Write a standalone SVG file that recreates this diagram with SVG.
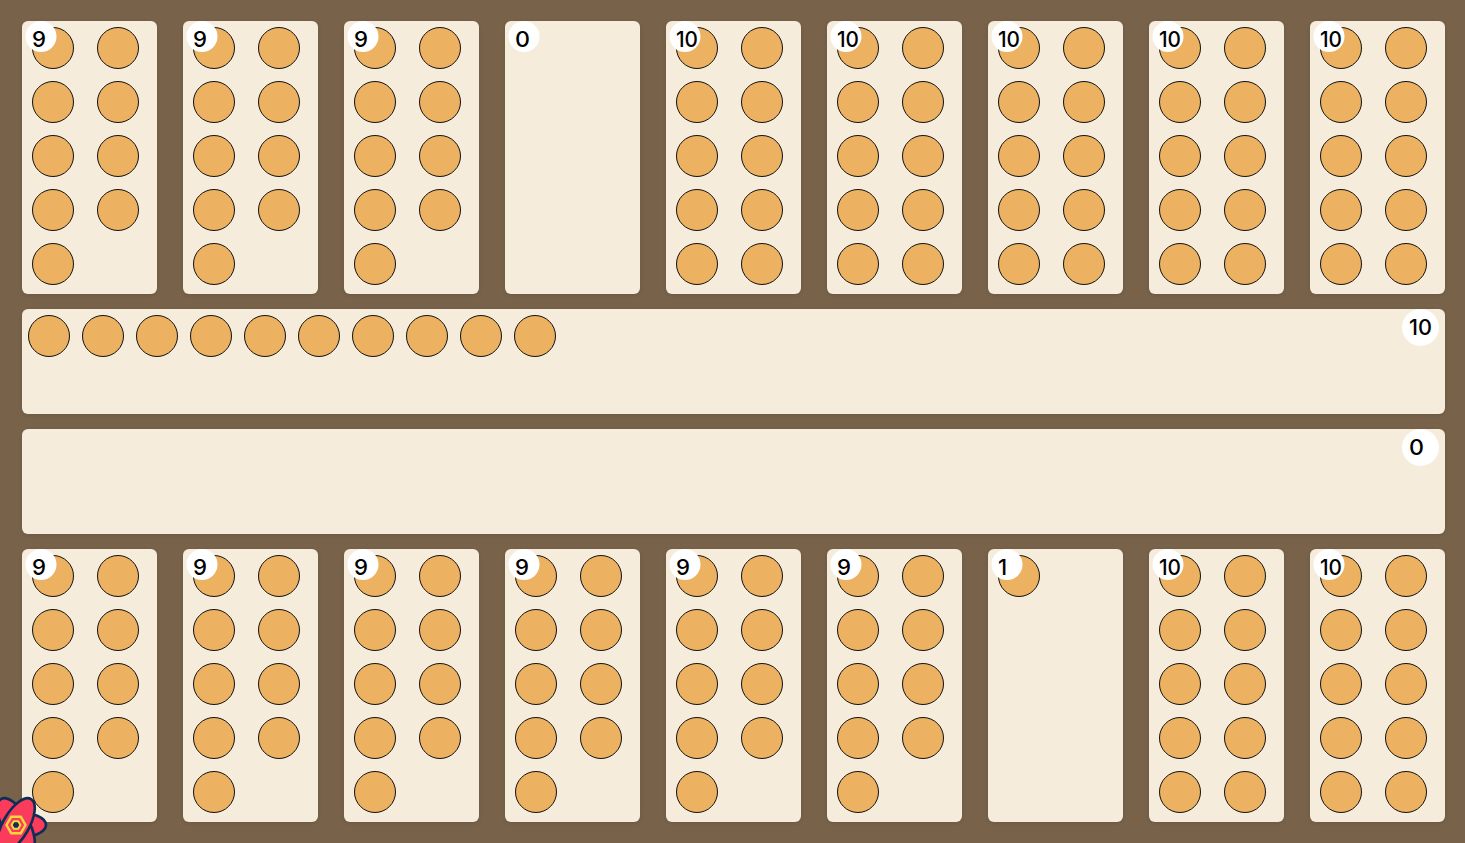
<svg xmlns="http://www.w3.org/2000/svg" width="1465" height="843" viewBox="0 0 1465 843">
<style>
.bg{fill:#78624a}
.pit{fill:#f5ecdc;filter:url(#sh)}
.stone{fill:#ecb161;stroke:#111;stroke-width:1}
.badge{fill:#fff}
.n{font-family:"Inter","Open Sans","DejaVu Sans",sans-serif;font-size:22px;fill:#000;font-weight:500}
.pet{fill:#fb3b5b;stroke:#0c2d57;stroke-width:2.6}
.hexo{fill:#fb3b5b;stroke:#f5d63d;stroke-width:2.4}
.hexi{fill:#0c2d57;stroke:#f5d63d;stroke-width:2}
</style>
<defs>
<filter id="sh" x="-10%" y="-10%" width="120%" height="120%"><feDropShadow dx="0" dy="1" stdDeviation="2" flood-color="#000" flood-opacity=".12"/></filter>
<circle id="st" class="stone" cx="0" cy="0" r="20.5"/>
<rect id="pitbox" class="pit" x="0" y="0" width="135" height="273" rx="6"/>
<g id="r1"><use href="#st" x="31" y="27"/></g>
<g id="c9"><use href="#st" x="31" y="27"/><use href="#st" x="96" y="27"/><use href="#st" x="31" y="81"/><use href="#st" x="96" y="81"/><use href="#st" x="31" y="135"/><use href="#st" x="96" y="135"/><use href="#st" x="31" y="189"/><use href="#st" x="96" y="189"/><use href="#st" x="31" y="243"/></g>
<g id="c10"><use href="#c9"/><use href="#st" x="96" y="243"/></g>
<circle id="b" class="badge" cx="19" cy="15.5" r="15.5"/>
</defs>
<rect class="bg" width="1465" height="843"/>
<g id="pit-top-1" transform="translate(22 21)"><use href="#pitbox"/><use href="#c9"/><use href="#b"/><text class="n" x="10" y="26" textLength="14" lengthAdjust="spacingAndGlyphs">9</text></g>
<g id="pit-top-2" transform="translate(183 21)"><use href="#pitbox"/><use href="#c9"/><use href="#b"/><text class="n" x="10" y="26" textLength="14" lengthAdjust="spacingAndGlyphs">9</text></g>
<g id="pit-top-3" transform="translate(344 21)"><use href="#pitbox"/><use href="#c9"/><use href="#b"/><text class="n" x="10" y="26" textLength="14" lengthAdjust="spacingAndGlyphs">9</text></g>
<g id="pit-top-4" transform="translate(505 21)"><use href="#pitbox"/><use href="#b"/><text class="n" x="10" y="26" textLength="15" lengthAdjust="spacingAndGlyphs">0</text></g>
<g id="pit-top-5" transform="translate(666 21)"><use href="#pitbox"/><use href="#c10"/><use href="#b"/><text class="n" x="10" y="26" textLength="22" lengthAdjust="spacingAndGlyphs">10</text></g>
<g id="pit-top-6" transform="translate(827 21)"><use href="#pitbox"/><use href="#c10"/><use href="#b"/><text class="n" x="10" y="26" textLength="22" lengthAdjust="spacingAndGlyphs">10</text></g>
<g id="pit-top-7" transform="translate(988 21)"><use href="#pitbox"/><use href="#c10"/><use href="#b"/><text class="n" x="10" y="26" textLength="22" lengthAdjust="spacingAndGlyphs">10</text></g>
<g id="pit-top-8" transform="translate(1149 21)"><use href="#pitbox"/><use href="#c10"/><use href="#b"/><text class="n" x="10" y="26" textLength="22" lengthAdjust="spacingAndGlyphs">10</text></g>
<g id="pit-top-9" transform="translate(1310 21)"><use href="#pitbox"/><use href="#c10"/><use href="#b"/><text class="n" x="10" y="26" textLength="22" lengthAdjust="spacingAndGlyphs">10</text></g>
<g id="store-1">
<rect class="pit" x="22" y="309" width="1423" height="105" rx="6"/>
<use href="#st" x="49" y="336"/><use href="#st" x="103" y="336"/><use href="#st" x="157" y="336"/><use href="#st" x="211" y="336"/><use href="#st" x="265" y="336"/><use href="#st" x="319" y="336"/><use href="#st" x="373" y="336"/><use href="#st" x="427" y="336"/><use href="#st" x="481" y="336"/><use href="#st" x="535" y="336"/>
<circle class="badge" cx="1420.5" cy="327.5" r="18.5"/><text class="n" x="1409" y="335" textLength="23" lengthAdjust="spacingAndGlyphs">10</text>
</g>
<g id="store-2">
<rect class="pit" x="22" y="429" width="1423" height="105" rx="6"/>
<circle class="badge" cx="1420.5" cy="447.5" r="18.5"/><text class="n" x="1409" y="455" textLength="15" lengthAdjust="spacingAndGlyphs">0</text>
</g>
<g id="pit-bottom-1" transform="translate(22 549)"><use href="#pitbox"/><use href="#c9"/><use href="#b"/><text class="n" x="10" y="26" textLength="14" lengthAdjust="spacingAndGlyphs">9</text></g>
<g id="pit-bottom-2" transform="translate(183 549)"><use href="#pitbox"/><use href="#c9"/><use href="#b"/><text class="n" x="10" y="26" textLength="14" lengthAdjust="spacingAndGlyphs">9</text></g>
<g id="pit-bottom-3" transform="translate(344 549)"><use href="#pitbox"/><use href="#c9"/><use href="#b"/><text class="n" x="10" y="26" textLength="14" lengthAdjust="spacingAndGlyphs">9</text></g>
<g id="pit-bottom-4" transform="translate(505 549)"><use href="#pitbox"/><use href="#c9"/><use href="#b"/><text class="n" x="10" y="26" textLength="14" lengthAdjust="spacingAndGlyphs">9</text></g>
<g id="pit-bottom-5" transform="translate(666 549)"><use href="#pitbox"/><use href="#c9"/><use href="#b"/><text class="n" x="10" y="26" textLength="14" lengthAdjust="spacingAndGlyphs">9</text></g>
<g id="pit-bottom-6" transform="translate(827 549)"><use href="#pitbox"/><use href="#c9"/><use href="#b"/><text class="n" x="10" y="26" textLength="14" lengthAdjust="spacingAndGlyphs">9</text></g>
<g id="pit-bottom-7" transform="translate(988 549)"><use href="#pitbox"/><use href="#r1"/><use href="#b"/><text class="n" x="10" y="26">1</text></g>
<g id="pit-bottom-8" transform="translate(1149 549)"><use href="#pitbox"/><use href="#c10"/><use href="#b"/><text class="n" x="10" y="26" textLength="22" lengthAdjust="spacingAndGlyphs">10</text></g>
<g id="pit-bottom-9" transform="translate(1310 549)"><use href="#pitbox"/><use href="#c10"/><use href="#b"/><text class="n" x="10" y="26" textLength="22" lengthAdjust="spacingAndGlyphs">10</text></g>
<g id="logo" transform="translate(16 825)">
<ellipse class="pet" rx="30" ry="13"/>
<ellipse class="pet" rx="30" ry="13" transform="rotate(60)"/>
<ellipse class="pet" rx="30" ry="13" transform="rotate(120)"/>
<polygon class="hexo" points="-9.5,0 -4.8,-8.2 4.8,-8.2 9.5,0 4.8,8.2 -4.8,8.2"/>
<polygon class="hexi" points="-4.4,0 -2.2,-3.8 2.2,-3.8 4.4,0 2.2,3.8 -2.2,3.8"/>
</g>
</svg>
